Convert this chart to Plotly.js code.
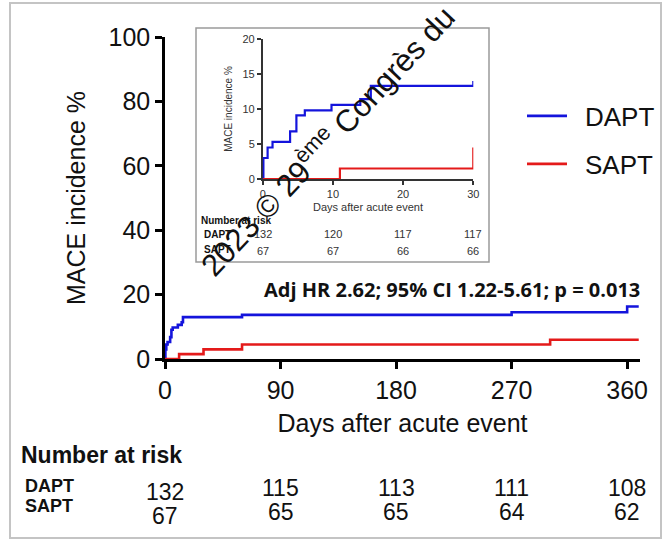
<!DOCTYPE html>
<html>
<head>
<meta charset="utf-8">
<script src="https://cdn.plot.ly/plotly-3.0.1.min.js"></script>
<style>
  html, body { margin: 0; padding: 0; background: #fff; }
  #chart { width: 666px; height: 540px; }
</style>
</head>
<body>
<div id="chart"></div>
<script>
// ---------- data ----------
// Main chart: cumulative MACE incidence (%) over one year
const mainDaptDays = [0, 0.3, 1, 2, 4, 5, 6, 10, 13, 14, 60, 270, 360, 369];
const mainDaptPct  = [0, 3.0, 4.5, 5.3, 6.8, 9.1, 9.8, 10.6, 11.4, 13.0, 13.7, 14.5, 16.3, 16.3];
const mainSaptDays = [0, 11, 30, 60, 300, 369];
const mainSaptPct  = [0, 1.5, 3.0, 4.5, 6.0, 6.0];

// Inset: first 30 days
const insetDaptDays = [0, 0.1, 0.7, 1.4, 3.9, 4.8, 6.0, 9.8, 13.9, 15.4, 30];
const insetDaptPct  = [0, 3.0, 4.5, 5.3, 6.8, 9.1, 9.8, 10.6, 11.4, 13.3, 14.0];
const insetSaptDays = [0, 11, 30];
const insetSaptPct  = [0, 1.5, 4.5];

// Numbers at risk
const mainRiskDays  = [0, 90, 180, 270, 360];
const mainRiskDapt  = [132, 115, 113, 111, 108];
const mainRiskSapt  = [67, 65, 65, 64, 62];
const insetRiskDays = [0, 10, 20, 30];
const insetRiskDapt = [132, 120, 117, 117];
const insetRiskSapt = [67, 67, 66, 66];

// Tick labels
const mainXTicks  = [0, 90, 180, 270, 360];
const mainYTicks  = [0, 20, 40, 60, 80, 100];
const insetXTicks = [0, 10, 20, 30];
const insetYTicks = [0, 5, 10, 15, 20];

const seriesNames = ['DAPT', 'SAPT'];
const hrText = 'Adj HR 2.62; 95% CI 1.22-5.61; p = 0.013';
const watermarkText = '2023 © 29<sup>ème</sup> Congrès du';

// ---------- layout helpers (pixel -> paper) ----------
const W = 666, H = 540;
const L = 165, R = 26, T = 37, B = 181;
const pw = W - L - R, ph = H - T - B;
const px = x => (x - L) / pw;
const py = y => (H - B - y) / ph;

const BLUE = '#1414dc';
const RED = '#e41a1a';
const FONT = 'Liberation Sans, Arial, sans-serif';
const INK = '#111';
const INSET_INK = '#333';
const LEGEND_PAD = '\u2002';

const traces = [
  {x: mainDaptDays, y: mainDaptPct, name: LEGEND_PAD + seriesNames[0], type: 'scatter', mode: 'lines',
   line: {shape: 'hv', color: BLUE, width: 2.6}, legend: 'legend', xaxis: 'x', yaxis: 'y'},
  {x: mainSaptDays, y: mainSaptPct, name: LEGEND_PAD + seriesNames[1], type: 'scatter', mode: 'lines',
   line: {shape: 'hv', color: RED, width: 2.6}, legend: 'legend2', xaxis: 'x', yaxis: 'y'},
  {x: insetDaptDays, y: insetDaptPct, name: seriesNames[0], type: 'scatter', mode: 'lines',
   line: {shape: 'hv', color: BLUE, width: 2.2}, showlegend: false, xaxis: 'x2', yaxis: 'y2'},
  {x: insetSaptDays, y: insetSaptPct, name: seriesNames[1], type: 'scatter', mode: 'lines',
   line: {shape: 'hv', color: RED, width: 2.2}, showlegend: false, xaxis: 'x2', yaxis: 'y2'}
];

const annotations = [];
// HR text
annotations.push({text: '<b>' + hrText + '</b>', xref: 'paper', yref: 'paper',
  x: px(642), y: py(289), xanchor: 'right', yanchor: 'middle', showarrow: false,
  font: {family: 'Open Sans, sans-serif', size: 20, color: INK}});
// Main number-at-risk table
annotations.push({text: '<b>Number at risk</b>', xref: 'paper', yref: 'paper',
  x: px(19), y: py(455), xanchor: 'left', yanchor: 'middle', showarrow: false,
  font: {family: FONT, size: 23, color: INK}});
annotations.push({text: '<b>' + seriesNames[0] + '</b>', xref: 'paper', yref: 'paper',
  x: px(23), y: py(486), xanchor: 'left', yanchor: 'middle', showarrow: false,
  font: {family: FONT, size: 18, color: INK}});
annotations.push({text: '<b>' + seriesNames[1] + '</b>', xref: 'paper', yref: 'paper',
  x: px(23), y: py(506), xanchor: 'left', yanchor: 'middle', showarrow: false,
  font: {family: FONT, size: 18, color: INK}});
mainRiskDays.forEach((d, i) => {
  annotations.push({text: String(mainRiskDapt[i]), xref: 'x', yref: 'paper', x: d, y: py(488),
    xanchor: 'center', yanchor: 'middle', showarrow: false, yshift: i === 0 ? -4 : 0,
    font: {family: FONT, size: 23, color: INK}});
  annotations.push({text: String(mainRiskSapt[i]), xref: 'x', yref: 'paper', x: d, y: py(512),
    xanchor: 'center', yanchor: 'middle', showarrow: false, yshift: i === 0 ? -4 : 0,
    font: {family: FONT, size: 23, color: INK}});
});
// Inset number-at-risk table
annotations.push({text: '<b>Number at risk</b>', xref: 'paper', yref: 'paper',
  x: px(199), y: py(220), xanchor: 'left', yanchor: 'middle', showarrow: false,
  font: {family: FONT, size: 10, color: INK}});
annotations.push({text: '<b>' + seriesNames[0] + '</b>', xref: 'paper', yref: 'paper',
  x: px(202), y: py(235), xanchor: 'left', yanchor: 'middle', showarrow: false,
  font: {family: FONT, size: 10, color: INK}});
annotations.push({text: '<b>' + seriesNames[1] + '</b>', xref: 'paper', yref: 'paper',
  x: px(202), y: py(249), xanchor: 'left', yanchor: 'middle', showarrow: false,
  font: {family: FONT, size: 10, color: INK}});
insetRiskDays.forEach((d, i) => {
  annotations.push({text: String(insetRiskDapt[i]), xref: 'x2', yref: 'paper', x: d, y: py(234),
    xanchor: 'center', yanchor: 'middle', showarrow: false,
    font: {family: FONT, size: 11, color: INSET_INK}});
  annotations.push({text: String(insetRiskSapt[i]), xref: 'x2', yref: 'paper', x: d, y: py(251),
    xanchor: 'center', yanchor: 'middle', showarrow: false,
    font: {family: FONT, size: 11, color: INSET_INK}});
});
// Watermark
annotations.push({text: watermarkText, xref: 'paper', yref: 'paper',
  x: px(326), y: py(140), xanchor: 'center', yanchor: 'middle', showarrow: false,
  textangle: -47, font: {family: FONT, size: 31, color: '#111'}});

const shapes = [
  // outer frame
  {type: 'rect', xref: 'paper', yref: 'paper', x0: px(10), x1: px(661), y0: py(538), y1: py(3),
   line: {color: '#c4c4c4', width: 2}, layer: 'below'},
  // inset frame
  {type: 'rect', xref: 'paper', yref: 'paper', x0: px(196), x1: px(489), y0: py(262), y1: py(28),
   line: {color: '#9a9a9a', width: 1.5}, fillcolor: 'rgba(0,0,0,0)', layer: 'below'}
];

const layout = {
  width: W, height: H,
  margin: {l: L, r: R, t: T, b: B, pad: 0, autoexpand: false},
  paper_bgcolor: '#fff', plot_bgcolor: 'rgba(0,0,0,0)',
  font: {family: FONT, color: INK},
  showlegend: true,
  legend: {x: px(522), y: py(116), xanchor: 'left', yanchor: 'middle',
    bgcolor: 'rgba(0,0,0,0)', font: {family: FONT, size: 26, color: INK}, itemwidth: 40},
  legend2: {x: px(522), y: py(164), xanchor: 'left', yanchor: 'middle',
    bgcolor: 'rgba(0,0,0,0)', font: {family: FONT, size: 26, color: INK}, itemwidth: 40},
  xaxis: {
    range: [0, 370], tickvals: mainXTicks, ticktext: mainXTicks.map(String),
    showgrid: false, zeroline: false, showline: true, linecolor: '#000', linewidth: 2.5,
    ticks: 'outside', ticklen: 7, tickwidth: 2.5, tickcolor: '#000', layer: 'below traces',
    tickfont: {family: FONT, size: 25, color: INK},
    title: {text: 'Days after acute event', font: {family: FONT, size: 25, color: INK}, standoff: 12}
  },
  yaxis: {
    range: [0, 100], tickvals: mainYTicks, ticktext: mainYTicks.map(String),
    showgrid: false, zeroline: false, showline: true, linecolor: '#000', linewidth: 2.5,
    ticks: 'outside', ticklen: 7, tickwidth: 2.5, tickcolor: '#000', layer: 'below traces',
    tickfont: {family: FONT, size: 25, color: INK},
    title: {text: 'MACE incidence %', font: {family: FONT, size: 25, color: INK}, standoff: 16}
  },
  xaxis2: {
    domain: [px(262.7), px(473.3)], anchor: 'y2', range: [0, 30],
    tickvals: insetXTicks, ticktext: insetXTicks.map(String),
    showgrid: false, zeroline: false, showline: true, linecolor: '#333', linewidth: 1.5,
    ticks: 'outside', ticklen: 4, tickwidth: 1.5, tickcolor: '#333', layer: 'below traces',
    tickfont: {family: FONT, size: 11, color: INSET_INK},
    title: {text: 'Days after acute event', font: {family: FONT, size: 11, color: INSET_INK}, standoff: 4}
  },
  yaxis2: {
    domain: [py(179), py(39)], anchor: 'x2', range: [0, 20],
    tickvals: insetYTicks, ticktext: insetYTicks.map(String),
    showgrid: false, zeroline: false, showline: true, linecolor: '#333', linewidth: 1.5,
    ticks: 'outside', ticklen: 4, tickwidth: 1.5, tickcolor: '#333', layer: 'below traces',
    tickfont: {family: FONT, size: 11, color: INSET_INK},
    title: {text: 'MACE incidence %', font: {family: FONT, size: 10, color: INSET_INK}, standoff: 8}
  },
  annotations: annotations,
  shapes: shapes
};

Plotly.newPlot('chart', traces, layout, {displayModeBar: false, responsive: false});
</script>
</body>
</html>
